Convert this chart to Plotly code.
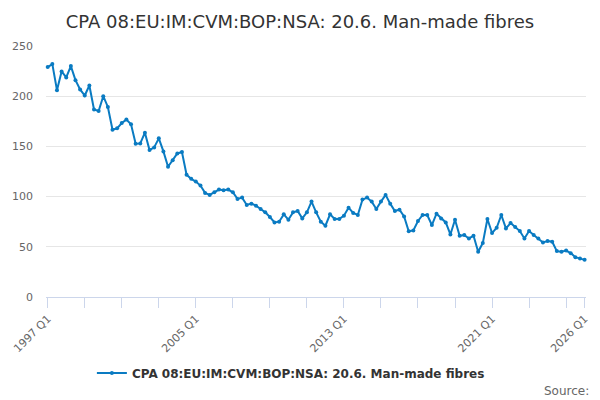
import plotly.graph_objects as go

# Quarter categories 1997 Q1 .. 2026 Q1
categories = [f"{y} Q{q}" for y in range(1997, 2027) for q in range(1, 5)][:117]

values = [
    229, 232, 206, 224.7, 218.7, 230, 216, 206.7, 200.7, 210.7,
    186.7, 185.3, 200, 189.3, 166.7, 168, 173.3, 176.7, 172, 152.7,
    153, 163.7, 146.3, 149, 158, 145, 129.7, 136.3, 143, 144.3,
    121.7, 117.7, 115, 111, 103.7, 101.7, 104.3, 107, 106.3, 107,
    104.3, 97.7, 99, 91.7, 93, 91, 87.7, 84.3, 79.7, 74.3,
    75, 82.3, 77, 84.3, 85.7, 78.3, 84.3, 95, 84.3, 75,
    71, 82.3, 77.7, 77.7, 81, 89, 83.7, 81.7, 97, 99,
    95, 87.7, 95, 101.7, 93, 85.7, 87, 80.3, 65.5, 66.3,
    75.7, 81.7, 81.7, 71.7, 83, 78.3, 74.3, 62.3, 77, 61,
    61.7, 58.3, 61, 45, 53.7, 77.7, 63.7, 69, 81.7, 68.3,
    73.7, 69.7, 65.7, 58.3, 65.7, 61.7, 58.3, 54.3, 55.7, 55,
    45.7, 45, 46.3, 43.7, 39.7, 38.3, 37,
]

series_name = "CPA 08:EU:IM:CVM:BOP:NSA: 20.6. Man-made fibres"
title_text = "CPA 08:EU:IM:CVM:BOP:NSA: 20.6. Man-made fibres"
labelled_ticks = ["1997 Q1", "2005 Q1", "2013 Q1", "2021 Q1", "2026 Q1"]
y_ticks = [0, 50, 100, 150, 200, 250]

tick_positions = categories[0:116:8] + [categories[-1]]
tick_text = [c if c in labelled_ticks else "" for c in tick_positions]

color = "#0a7bc2"
font = "DejaVu Sans"

fig = go.Figure()
fig.add_trace(go.Scatter(
    x=categories, y=values, mode="lines+markers", name=series_name,
    line=dict(color=color, width=2),
    marker=dict(color=color, size=4),
    cliponaxis=False,
))

fig.update_layout(
    width=600, height=400,
    paper_bgcolor="white", plot_bgcolor="white",
    margin=dict(l=46, r=14, t=45.5, b=102.7, autoexpand=False),
    title=dict(text=title_text, x=0.5, xanchor="center", y=0.947, yanchor="middle",
               font=dict(family=font, size=18, color="#333333")),
    showlegend=True,
    legend=dict(orientation="h", x=0.4535, xanchor="center", y=-0.303, yanchor="middle",
                font=dict(family=font, size=12, color="#333333", weight="bold")),
    font=dict(family=font),
)

fig.update_xaxes(
    type="category", range=[-0.37, 116.3], automargin=False,
    tickmode="array", tickvals=tick_positions, ticktext=tick_text,
    tickangle=-45, ticks="outside", ticklen=10, tickcolor="#ccd6eb",
    showline=True, linecolor="#ccd6eb", linewidth=1,
    showgrid=False, tickfont=dict(family=font, size=11, color="#666666"),
)
fig.update_yaxes(
    range=[0, 250], tickvals=y_ticks, automargin=False,
    showgrid=True, gridcolor="#e6e6e6", gridwidth=1,
    zeroline=False, showline=False,
    tickfont=dict(family=font, size=11, color="#666666"),
    ticklabelstandoff=12,
)

fig.add_annotation(text="Source:", xref="paper", yref="paper", x=1.0092, y=-0.374,
                   xanchor="right", yanchor="middle", showarrow=False,
                   font=dict(family=font, size=12, color="#666666"))

fig.write_html("out.html", config={"displayModeBar": False},
               post_script="document.body.style.margin='0';")
